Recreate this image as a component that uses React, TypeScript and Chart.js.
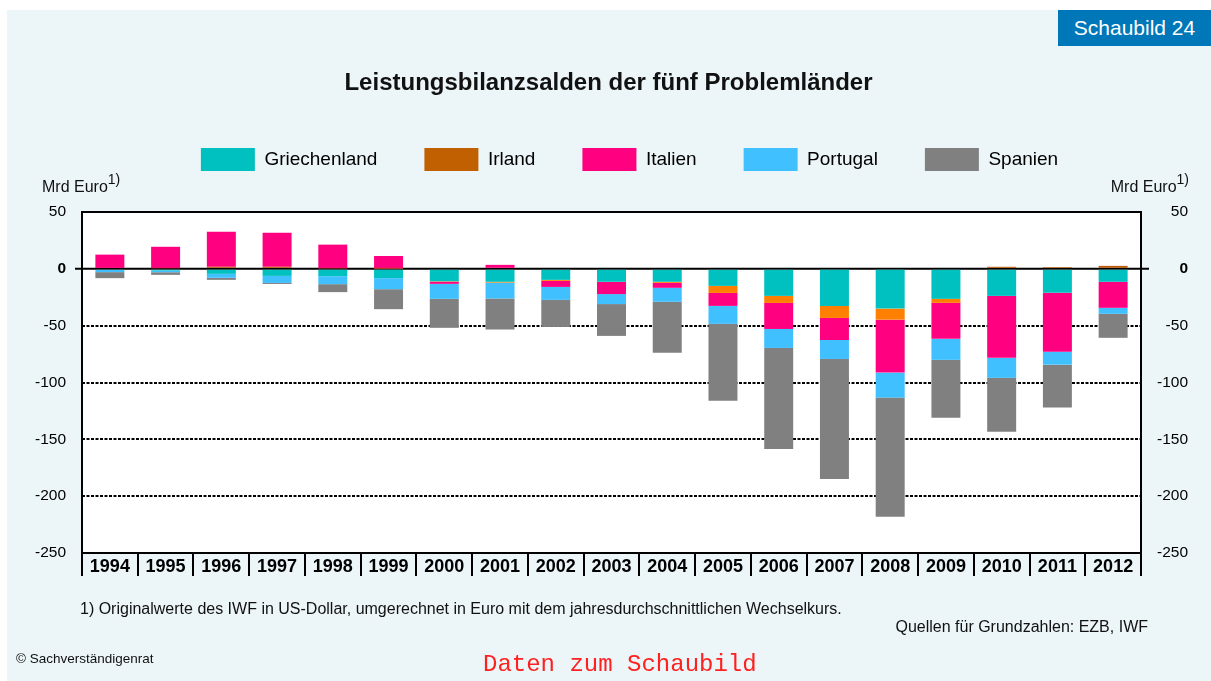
import React, { useEffect, useRef } from "react";
import { Chart, registerables } from "chart.js";

Chart.register(...registerables);

const YEARS = ["1994", "1995", "1996", "1997", "1998", "1999", "2000", "2001", "2002", "2003", "2004", "2005", "2006", "2007", "2008", "2009", "2010", "2011", "2012"];

const GRIECHENLAND = [-0.9, -1.5, -4.4, -6.2, -6.5, -8.2, -11, -11.4, -9.7, -11.4, -11.4, -15, -23.8, -32.6, -35, -26.4, -23.8, -21, -11.4];
const IRLAND = [0.8, 0.6, 1.8, 1.8, 0.5, 0.2, -0.4, -0.7, -0.9, -0.2, -0.9, -6.2, -6.2, -10.6, -9.7, -3.5, 1.8, 1.5, 2.6];
const ITALIEN = [11.7, 18.8, 30.8, 29.9, 20.8, 11.1, -1.8, 3.5, -5.3, -10.6, -4.4, -11.4, -22.9, -19.4, -46.6, -31.7, -54.5, -51.9, -22.9];
const PORTUGAL = [-2, -1.5, -3.5, -6.2, -7, -9.7, -13.2, -14, -11.4, -8.8, -12.3, -15.8, -16.7, -16.7, -22, -18.5, -17.6, -11.4, -5.3];
const SPANIEN = [-5.3, -2.3, -1.8, -0.9, -7, -17.6, -25.5, -27.3, -23.8, -28, -44.9, -67.7, -88.9, -105.6, -104.7, -51, -47.5, -37.8, -21.1];

const SERIES_NAMES = ["Griechenland", "Irland", "Italien", "Portugal", "Spanien"];
const SERIES_COLORS = ["#00C0C0", "#FF8000", "#FF0080", "#40C0FF", "#808080"];
const LEGEND_COLORS = ["#00C0C0", "#C06000", "#FF0080", "#40C0FF", "#808080"];
const IRLAND_POSITIVE_COLOR = "#B85C0C";

const Y_MIN = -250;
const Y_MAX = 50;
const Y_STEP = 50;

const FONT = "'Liberation Sans', Arial, Helvetica, sans-serif";

const plotDecor = {
  id: "plotDecor",
  beforeInit(chart: any) {
    const leg = chart.legend;
    if (leg) {
      const orig = leg.fit;
      leg.fit = function () {
        orig.call(this);
        this.height = 111;
      };
    }
  },
  afterLayout(chart: any) {
    const leg = chart.legend;
    if (leg) {
      leg.left += 64;
      leg.width = leg.right - leg.left;
    }
  },
  beforeDraw(chart: any) {
    const { ctx, chartArea } = chart;
    ctx.save();
    ctx.fillStyle = "#FFFFFF";
    ctx.fillRect(chartArea.left, chartArea.top, chartArea.right - chartArea.left, chartArea.bottom - chartArea.top);
    ctx.restore();
  },
  beforeDatasetsDraw(chart: any) {
    const { ctx, chartArea, scales } = chart;
    const y0 = scales.y.getPixelForValue(0);
    ctx.save();
    ctx.strokeStyle = "#000000";
    ctx.lineWidth = 2;
    ctx.beginPath();
    ctx.moveTo(chartArea.left - 7, y0);
    ctx.lineTo(chartArea.right + 8, y0);
    ctx.stroke();
    ctx.restore();
  },
  afterDatasetsDraw(chart: any) {
    const { ctx, chartArea } = chart;
    ctx.save();
    ctx.strokeStyle = "#000000";
    ctx.lineWidth = 2;
    ctx.strokeRect(chartArea.left, chartArea.top, chartArea.right - chartArea.left, chartArea.bottom - chartArea.top);
    ctx.restore();
  },
};

export default function App() {
  const ref = useRef<HTMLCanvasElement>(null);

  useEffect(() => {
    if (!ref.current) return;
    Chart.defaults.font.family = FONT;
    const values = [GRIECHENLAND, IRLAND, ITALIEN, PORTUGAL, SPANIEN];
    const yTickFont = (ctx: any) => ({
      family: FONT,
      size: 15.5,
      weight: ctx.tick && ctx.tick.value === 0 ? "bold" : "normal",
    });
    const chart = new Chart(ref.current, {
      type: "bar",
      data: {
        labels: YEARS,
        datasets: SERIES_NAMES.map((name, i) => ({
          label: name,
          data: values[i],
          backgroundColor:
            i === 1
              ? (c: any) => (typeof c.raw === "number" && c.raw > 0 ? IRLAND_POSITIVE_COLOR : SERIES_COLORS[1])
              : SERIES_COLORS[i],
          borderWidth: 0,
          barPercentage: 0.52,
          categoryPercentage: 1,
          stack: "s",
        })),
      },
      options: {
        responsive: false,
        animation: false,
        layout: { padding: { top: 91, left: 0, right: 23, bottom: 103 } },
        plugins: {
          title: { display: false },
          tooltip: { enabled: false },
          legend: {
            display: true,
            position: "top",
            align: "center",
            labels: {
              boxWidth: 54,
              boxHeight: 23,
              padding: 47,
              color: "#111111",
              font: { family: FONT, size: 19 },
              generateLabels: (c: any) =>
                c.data.datasets.map((ds: any, i: number) => ({
                  text: ds.label,
                  fillStyle: LEGEND_COLORS[i],
                  strokeStyle: LEGEND_COLORS[i],
                  lineWidth: 0,
                  hidden: false,
                  datasetIndex: i,
                })),
            },
          },
        },
        scales: {
          x: {
            stacked: true,
            offset: true,
            grid: {
              display: true,
              offset: true,
              drawOnChartArea: false,
              drawTicks: true,
              tickLength: 23,
              tickWidth: 2,
              tickColor: "#000000",
              color: "#000000",
              lineWidth: 2,
            },
            border: { display: true, color: "#000000", width: 2 },
            ticks: {
              padding: -20,
              color: "#000000",
              autoSkip: false,
              maxRotation: 0,
              font: { family: FONT, size: 18, weight: "bold" },
            },
            afterFit: (s: any) => {
              s.height = 25;
            },
          },
          y: {
            type: "linear",
            stacked: true,
            position: "left",
            min: Y_MIN,
            max: Y_MAX,
            ticks: { stepSize: Y_STEP, padding: 16, color: "#000000", font: yTickFont },
            grid: {
              drawTicks: false,
              lineWidth: 2,
              color: (c: any) =>
                c.tick && (c.tick.value === 0 || c.tick.value === Y_MAX || c.tick.value === Y_MIN)
                  ? "rgba(0,0,0,0)"
                  : "#000000",
            },
            border: { display: false, dash: [3, 1.5] },
            afterFit: (s: any) => {
              s.width = 75;
            },
          },
          y2: {
            type: "linear",
            position: "right",
            min: Y_MIN,
            max: Y_MAX,
            ticks: { stepSize: Y_STEP, padding: 0, crossAlign: "far", color: "#000000", font: yTickFont },
            grid: { display: false, drawTicks: false },
            border: { display: false },
            afterFit: (s: any) => {
              s.width = 47;
            },
          },
        },
      },
      plugins: [plotDecor],
    } as any);
    return () => chart.destroy();
  }, []);

  const abs = (o: any) => ({ position: "absolute" as const, margin: 0, whiteSpace: "nowrap" as const, ...o });
  const sup = { fontSize: 14, verticalAlign: 8, lineHeight: 0 };

  return (
    <div style={{ position: "absolute", left: 7, top: 10, width: 1204, height: 671, background: "#ECF5F8", overflow: "hidden", fontFamily: FONT }}>
      <canvas ref={ref} width={1204} height={671} style={{ position: "absolute", left: 0, top: 0, width: 1204, height: 671, display: "block" }} />
      <div style={abs({ left: 1051, top: 0, width: 153, height: 36, background: "#0077B8", color: "#FFFFFF", fontSize: 21, lineHeight: "36px", textAlign: "center" })}>
        Schaubild 24
      </div>
      <div style={abs({ left: 0, top: 58, width: 1203, textAlign: "center", fontSize: 24, fontWeight: "bold", lineHeight: "28px", color: "#111" })}>
        Leistungsbilanzsalden der fünf Problemländer
      </div>
      <div style={abs({ left: 35, top: 168, fontSize: 16, lineHeight: "18px", color: "#111" })}>
        Mrd Euro<sup style={sup}>1)</sup>
      </div>
      <div style={abs({ right: 22, top: 168, fontSize: 16, lineHeight: "18px", color: "#111", textAlign: "right" })}>
        Mrd Euro<sup style={sup}>1)</sup>
      </div>
      <div style={abs({ left: 73, top: 590, fontSize: 16, lineHeight: "18px", color: "#111" })}>
        1) Originalwerte des IWF in US-Dollar, umgerechnet in Euro mit dem jahresdurchschnittlichen Wechselkurs.
      </div>
      <div style={abs({ right: 63, top: 608, fontSize: 16, lineHeight: "18px", color: "#111", textAlign: "right" })}>
        Quellen für Grundzahlen: EZB, IWF
      </div>
      <div style={abs({ left: 9, top: 641, fontSize: 13.5, lineHeight: "16px", color: "#111" })}>
        © Sachverständigenrat
      </div>
      <div style={abs({ left: 476, top: 641, fontSize: 24, lineHeight: "28px", color: "#FF2020", fontFamily: "'Liberation Mono', 'Courier New', monospace" })}>
        Daten zum Schaubild
      </div>
    </div>
  );
}
